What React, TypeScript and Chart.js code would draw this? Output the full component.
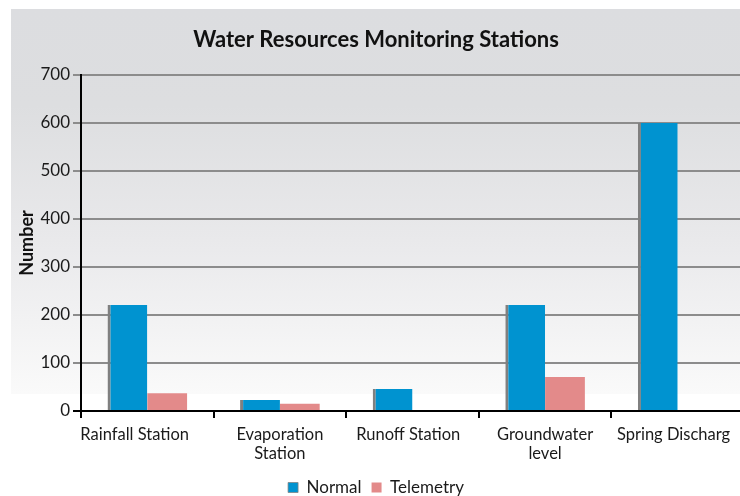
import React, { useEffect, useRef } from "react";
import { Chart, registerables } from "chart.js";

Chart.register(...registerables);

const categories: (string | string[])[] = [
  "Rainfall Station      ",
  ["Evaporation", "Station"],
  "Runoff Station  ",
  ["Groundwater", "level"],
  "Spring Discharg  ",
];
const normalValues = [221, 23, 46, 221, 600];
const telemetryValues = [37, 15, 0, 71, 0];
const yTicks = [0, 100, 200, 300, 400, 500, 600, 700];

const W = 736;
const H = 498;
const FONT = "Lato, 'Open Sans', sans-serif";

const bgPlugin = {
  id: "bgGradient",
  beforeDraw(chart: any) {
    const ctx = chart.ctx;
    ctx.save();
    ctx.fillStyle = "#ffffff";
    ctx.fillRect(0, 0, chart.width, chart.height);
    const g = ctx.createLinearGradient(0, 1, 0, 386);
    g.addColorStop(0, "#dcdde0");
    g.addColorStop(0.25, "#dddee0");
    g.addColorStop(0.6, "#e9e9eb");
    g.addColorStop(1, "#fafafa");
    ctx.fillStyle = g;
    ctx.fillRect(3, 1, chart.width - 3, 385);
    ctx.restore();
  },
};

export default function App() {
  const ref = useRef<HTMLCanvasElement | null>(null);
  useEffect(() => {
    if (!ref.current) return;
    const chart = new Chart(ref.current, {
      type: "bar",
      data: {
        labels: categories,
        datasets: [
          {
            label: "Normal",
            data: normalValues,
            backgroundColor: "#0093d0",
            borderColor: "#808080",
            borderWidth: { left: 3, right: 0, top: 0, bottom: 0 },
            borderSkipped: false,
            categoryPercentage: 0.6,
            barPercentage: 1.0,
          },
          {
            label: "Telemetry",
            data: telemetryValues,
            backgroundColor: "#e38a8a",
            borderWidth: 0,
            categoryPercentage: 0.6,
            barPercentage: 1.0,
          },
        ],
      },
      options: {
        responsive: false,
        animation: false,
        devicePixelRatio: 1,
        layout: { padding: 0 },
        plugins: {
          title: {
            display: true,
            text: "Water Resources Monitoring Stations",
            color: "#111111",
            font: { family: FONT, size: 22, weight: "bold", lineHeight: 1.2 },
            padding: { top: 19, bottom: 21.6 },
          },
          legend: {
            position: "bottom",
            labels: {
              color: "#1a1a1a",
              font: { family: FONT, size: 17 },
              boxWidth: 10,
              boxHeight: 10,
              padding: 10,
            },
          },
          tooltip: { enabled: false },
        },
        scales: {
          x: {
            afterFit(scale: any) {
              scale.height = 58;
              scale.paddingLeft = 0;
              scale.paddingRight = 0;
            },
            grid: {
              offset: true,
              drawOnChartArea: false,
              drawTicks: true,
              tickLength: 7,
              color: "#000000",
              lineWidth: 2,
            },
            border: { display: true, color: "#000000", width: 2 },
            ticks: {
              color: "#1a1a1a",
              font: { family: FONT, size: 16.5, lineHeight: 1.1 },
              padding: 8,
              maxRotation: 0,
              autoSkip: false,
            },
          },
          y: {
            min: 0,
            max: 700,
            afterFit(scale: any) {
              scale.width = 73;
            },
            afterBuildTicks(scale: any) {
              scale.ticks = yTicks.map((v) => ({ value: v }));
            },
            grid: {
              color: (c: any) => (c.tick && c.tick.value === 0 ? "#000000" : "#8c8c8c"),
              lineWidth: 2,
              tickLength: 8,
              drawTicks: true,
            },
            border: { display: true, color: "#000000", width: 2 },
            ticks: {
              color: "#1a1a1a",
              font: { family: FONT, size: 17 },
              padding: 3,
            },
            title: {
              display: true,
              text: "Number",
              color: "#111111",
              font: { family: FONT, size: 18, weight: "bold", lineHeight: 1.2 },
              padding: { top: 8, bottom: 0 },
            },
          },
        },
      },
      plugins: [bgPlugin],
    } as any);
    return () => chart.destroy();
  }, []);
  return (
    <div
      style={{
        position: "absolute",
        left: 8,
        top: 8,
        width: 732,
        height: 488,
        overflow: "hidden",
      }}
    >
      <canvas ref={ref} width={W} height={H} style={{ width: W, height: H, display: "block" }} />
    </div>
  );
}
